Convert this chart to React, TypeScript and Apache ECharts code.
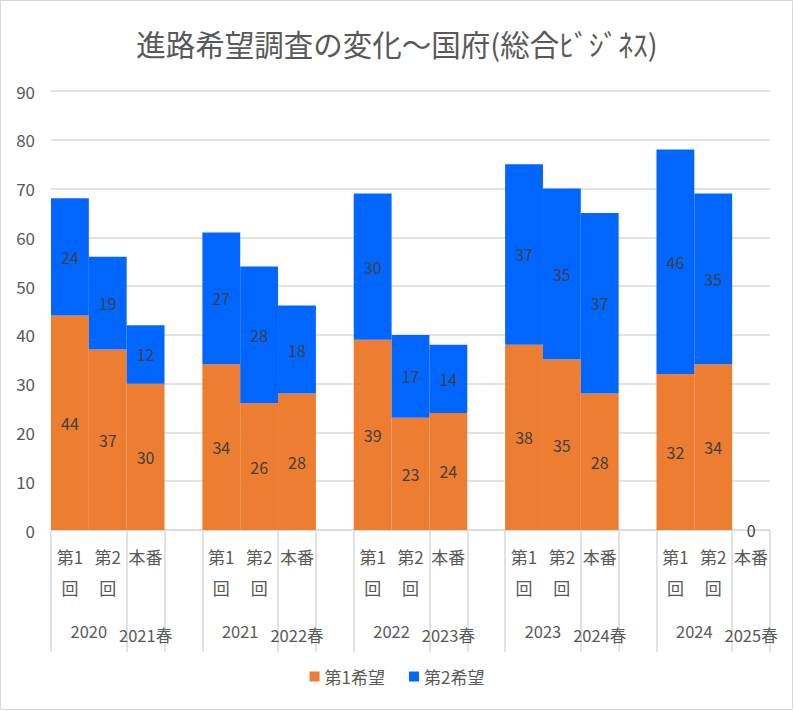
import React, { useEffect, useRef } from "react";
import * as echarts from "echarts";

const years = ["2020", "2021", "2022", "2023", "2024"];
const springs = ["2021春", "2022春", "2023春", "2024春", "2025春"];
const rounds = ["第1\n回", "第2\n回", "本番"];
const first: (number | null)[][] = [
  [44, 37, 30],
  [34, 26, 28],
  [39, 23, 24],
  [38, 35, 28],
  [32, 34, 0],
];
const second: (number | null)[][] = [
  [24, 19, 12],
  [27, 28, 18],
  [30, 17, 14],
  [37, 35, 37],
  [46, 35, null],
];
const seriesNames = ["第1希望", "第2希望"];
const yTicks = { min: 0, max: 90, interval: 10 };

const FONT = "'Noto Sans CJK JP', 'Noto Sans', sans-serif";

export default function App() {
  const ref = useRef<HTMLDivElement>(null);
  useEffect(() => {
    document.body.style.margin = "0";
    if (!ref.current) return;
    const chart = echarts.init(ref.current, undefined, { renderer: "svg" });

    const cats: string[] = [];
    const s1: (number | null)[] = [];
    const s2: (number | null)[] = [];
    years.forEach((_, g) => {
      rounds.forEach((r, k) => {
        cats.push(r);
        s1.push(first[g][k]);
        s2.push(second[g][k]);
      });
      if (g < years.length - 1) {
        cats.push("");
        s1.push(null);
        s2.push(null);
      }
    });
    const total = cats.length;

    const groupLabel = (v: number) => {
      for (let g = 0; g < years.length; g++) {
        if (Math.abs(v - (4 * g + 1)) < 1e-6) return "{y|" + years[g] + "}";
        if (Math.abs(v - (4 * g + 2.5)) < 1e-6) return "{s|" + springs[g] + "}";
      }
      return "";
    };

    const labelStyle = {
      show: true,
      position: "inside",
      color: "#404040",
      fontSize: 16,
      fontFamily: FONT,
    };

    chart.setOption({
      animation: false,
      textStyle: { fontFamily: FONT },
      title: {
        text: "進路希望調査の変化～国府(総合ﾋﾞｼﾞﾈｽ)",
        left: "center",
        top: 23,
        textStyle: { color: "#595959", fontSize: 29.5, fontWeight: "normal", fontFamily: FONT },
      },
      legend: {
        bottom: 21,
        left: "center",
        itemWidth: 10,
        itemHeight: 10,
        itemGap: 24,
        icon: "rect",
        textStyle: { color: "#595959", fontSize: 17, fontFamily: FONT },
        data: seriesNames,
      },
      graphic: [
        {
          type: "rect",
          shape: { x: 0.5, y: 0.5, width: 792, height: 709 },
          style: { fill: "none", stroke: "#D9D9D9", lineWidth: 1 },
          silent: true,
        },
      ],
      grid: { left: 51, right: 24, top: 91, bottom: 181, containLabel: false },
      xAxis: [
        {
          type: "category",
          data: cats,
          position: "bottom",
          axisLine: { show: true, onZero: false, lineStyle: { color: "#D9D9D9" } },
          axisTick: {
            show: true,
            length: 122,
            interval: (i: number) => i % 4 !== 1,
            lineStyle: { color: "#D9D9D9", width: 1.5 },
          },
          axisLabel: {
            interval: 0,
            color: "#595959",
            fontSize: 17,
            lineHeight: 31,
            margin: 11,
            fontFamily: FONT,
          },
        },
        {
          type: "value",
          min: 0,
          max: total,
          interval: 0.5,
          position: "bottom",
          axisLine: { show: false, onZero: false },
          axisTick: { show: false },
          splitLine: { show: false },
          axisLabel: {
            show: true,
            margin: 93,
            formatter: groupLabel,
            rich: {
              y: { color: "#595959", fontSize: 16.5, fontFamily: FONT },
              s: { color: "#595959", fontSize: 16.5, fontFamily: FONT, padding: [4, 0, 0, 0] },
            },
          },
        },
      ],
      yAxis: {
        type: "value",
        min: yTicks.min,
        max: yTicks.max,
        interval: yTicks.interval,
        axisLine: { show: false },
        axisTick: { show: false },
        splitLine: { lineStyle: { color: "#D9D9D9", width: 1.5 } },
        axisLabel: { color: "#595959", fontSize: 17, margin: 16, fontFamily: FONT },
      },
      series: [
        {
          name: seriesNames[0],
          type: "bar",
          stack: "a",
          xAxisIndex: 0,
          barCategoryGap: "0%",
          data: s1,
          itemStyle: { color: "#ED7D31" },
          label: labelStyle,
        },
        {
          name: seriesNames[1],
          type: "bar",
          stack: "a",
          xAxisIndex: 0,
          barCategoryGap: "0%",
          data: s2,
          itemStyle: { color: "#0066FF" },
          label: labelStyle,
        },
      ],
    });
    return () => chart.dispose();
  }, []);
  return <div ref={ref} style={{ width: 794, height: 711 }} />;
}
